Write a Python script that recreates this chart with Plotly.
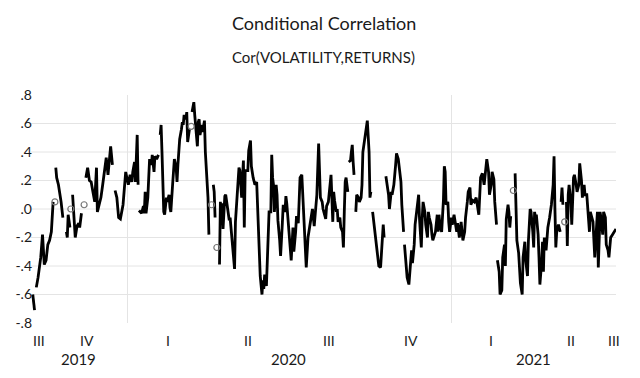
import pandas as pd
import plotly.graph_objects as go

title_text = "Conditional Correlation"
subtitle_text = "Cor(VOLATILITY,RETURNS)"

# observation day offsets from start_date (None = break in the series)
start_date = "2019-09-16"
day = [
    0, 2, None,
    4, 6, 9, 10, 11, 13, 15, 17, 19, 21, 23, None,
    25, None,
    26, 27, 29, 31, 32, 34, None,
    38, 39, 40, 42, None,
    43, None,
    45, 48, 50, 52, 53, 55, None,
    58, None,
    60, 62, 64, 66, 68, 70, 72, 73, 75, 77, 79, 81, 83, 85, 87, 88, 90, None,
    93, 95, 97, 99, 102, 104, 105, 108, 110, 112, 113, 115, 116, 118, 119, None,
    120, 123, 125, 126, 127, 128, 130, 131, 132, 134, 135, 137, 138, 140, 142, None,
    144, 145, 146, 147, 148, 149, 151, 152, 154, 155, 156, 158, 159, 160, 162, 163,
    164, 165, 166, 168, 169, 170, 171, 173, 174, 175, 177, None,
    179, None,
    180, 182, 183, 184, 186, 187, 188, 189, 191, 192, 193, 194, 195, 197, 198, 199, None,
    202, None,
    204, 205, 206, None,
    208, None,
    211, 212, 213, 214, 215, 217, 218, 220, 222, 223, 225, 226, 228, 229, 231, 233,
    234, 236, 237, 238, 239, 240, 243, 244, 246, 247, 249, 251, 253, 255, 256, 257,
    259, 260, 261, 262, 264, 266, 267, 269, 270, 271, 272, 273, 275, 276, 277, 279,
    280, 282, 283, 285, 286, 287, 289, 290, 292, 294, 295, 297, 298, 300, 302, 304,
    305, 307, 309, 311, 312, 314, 316, 318, 319, 321, 323, 324, 325, 327, 328, 331,
    332, 334, 336, 337, 339, 340, 341, 343, 344, 345, 347, 348, 350, 351, 352, 353,
    354, 356, None,
    357, 359, 360, 361, 362, 363, None,
    365, 366, 368, 369, 371, 372, 373, 375, 377, 378, 380, 381, 382, None,
    384, 386, 388, 390, 391, 393, 394, 396, 397, None,
    399, 400, 402, 403, 405, 406, 408, 410, 411, 413, 414, 416, 417, 419, None,
    420, 422, 423, 425, 426, 428, 429, 431, 432, 434, 436, 437, 439, 440, 441, 443,
    444, 446, 447, 448, 450, 451, 452, 454, 455, 457, 458, 459, 460, 462, 463, 464,
    465, 466, 467, 469, 470, 471, 473, 474, 476, 477, 479, 480, 482, 484, 485, 486,
    488, 489, 491, 492, 494, 495, 497, 499, 501, 503, 504, 506, 508, 510, 512, 513,
    515, 516, 518, 519, 521, 522, 524, None,
    525, 527, 528, 530, 531, 533, 534, 535, 537, 538, 539, 540, None,
    543, None,
    545, 547, 549, 550, 551, 553, 554, 556, 557, 559, 560, 562, 563, 565, 566, 567,
    568, 569, 571, 572, 573, 575, 576, 577, 578, 580, 581, 582, 584, 586, 588, 589,
    590, 591, 592, 593, 594, 596, None,
    597, 598, 599, None,
    601, None,
    603, 604, 605, 606, 608, 609, 611, 612, 614, 615, 617, 618, 620, 621, 623, 624,
    626, 627, 629, 630, 632, 633, 635, 636, 638, 639, 641, 642, 644, 645, 647, 648,
    650, 651, 653, 655, 657, 659,
]

cor = [
    -0.60, -0.71, None,
    -0.55, -0.48, -0.34, -0.27, -0.18, -0.39, -0.36, -0.25, -0.22, -0.16, 0.05, None,
    0.05, None,
    0.29, 0.22, 0.17, 0.10, 0.05, -0.06, None,
    -0.16, -0.20, -0.04, -0.13, None,
    0.00, None,
    0.10, -0.20, -0.12, -0.10, -0.13, -0.03, None,
    0.03, None,
    0.22, 0.29, 0.20, 0.19, 0.12, 0.05, 0.29, -0.02, 0.03, 0.08, 0.17, 0.26, 0.36, 0.24, 0.38, 0.44, 0.31, None,
    0.13, 0.08, -0.06, -0.07, 0.03, 0.15, 0.26, 0.17, 0.24, 0.19, 0.26, 0.33, 0.19, 0.52, 0.17, None,
    -0.01, -0.03, 0.02, -0.03, 0.12, -0.03, 0.08, 0.29, 0.35, 0.31, 0.38, 0.26, 0.37, 0.35, 0.38, None,
    0.52, 0.59, 0.40, 0.17, -0.02, -0.04, 0.08, 0.05, 0.10, 0.01, -0.02, 0.17, 0.24, 0.35, 0.29, 0.19,
    0.31, 0.38, 0.49, 0.56, 0.61, 0.59, 0.66, 0.63, 0.68, 0.47, 0.56, None,
    0.58, None,
    0.68, 0.75, 0.66, 0.59, 0.44, 0.61, 0.63, 0.52, 0.59, 0.54, 0.61, 0.62, 0.40, 0.17, 0.08, -0.18, None,
    0.03, None,
    0.17, 0.12, -0.06, None,
    -0.27, None,
    -0.39, 0.05, -0.09, 0.04, -0.14, 0.09, 0.10, -0.01, -0.08, -0.06, -0.19, -0.24, -0.42, -0.09, 0.15, 0.29,
    0.27, 0.08, 0.22, 0.34, -0.13, 0.27, 0.27, 0.41, 0.48, 0.30, 0.22, 0.17, 0.19, -0.19, -0.24, -0.47,
    -0.60, -0.50, -0.56, -0.46, -0.54, -0.22, -0.02, -0.02, 0.38, 0.22, 0.17, -0.02, 0.17, 0.10, -0.08, -0.22,
    -0.33, -0.10, 0.03, -0.02, 0.09, 0.04, -0.11, -0.22, -0.36, -0.13, -0.30, -0.16, -0.05, -0.10, 0.22, 0.24,
    0.12, -0.20, -0.41, -0.20, -0.16, -0.06, 0.00, -0.12, -0.06, 0.10, 0.46, 0.22, 0.08, 0.05, 0.00, -0.07,
    0.02, 0.05, 0.17, 0.24, -0.09, 0.12, 0.06, -0.02, 0.00, -0.09, -0.06, -0.13, -0.16, -0.27, -0.02, 0.19,
    0.22, 0.12, None,
    0.33, 0.34, 0.40, 0.45, 0.33, 0.24, None,
    -0.02, 0.10, 0.08, 0.05, 0.08, 0.17, 0.40, 0.49, 0.56, 0.62, 0.40, 0.08, 0.12, None,
    -0.02, -0.13, -0.25, -0.36, -0.40, -0.41, -0.29, -0.11, -0.20, None,
    0.23, 0.19, 0.10, 0.00, 0.12, 0.10, 0.17, 0.31, 0.39, 0.35, 0.29, 0.19, 0.03, -0.16, None,
    -0.25, -0.39, -0.48, -0.53, -0.44, -0.29, -0.38, -0.25, -0.11, 0.01, 0.10, -0.07, -0.27, -0.07, 0.05, -0.02,
    -0.11, -0.20, -0.02, -0.06, -0.11, -0.18, -0.22, -0.18, -0.16, -0.04, -0.16, -0.04, -0.11, -0.16, -0.06, 0.06,
    0.30, 0.26, 0.03, 0.05, -0.09, -0.16, -0.06, -0.11, -0.04, -0.09, -0.16, -0.10, -0.20, -0.09, -0.16, -0.22,
    -0.16, -0.06, 0.05, 0.12, 0.15, 0.03, 0.06, 0.05, 0.08, 0.01, -0.04, 0.22, 0.25, 0.17, 0.33, 0.35,
    0.26, 0.10, 0.17, 0.26, 0.21, 0.05, -0.11, None,
    -0.36, -0.44, -0.60, -0.57, -0.34, -0.25, -0.40, -0.07, 0.03, -0.02, -0.13, -0.05, None,
    0.13, None,
    0.25, -0.22, -0.31, -0.45, -0.52, -0.60, -0.34, -0.23, -0.36, -0.47, -0.23, 0.00, -0.02, -0.16, -0.27, -0.02,
    -0.06, -0.04, -0.18, -0.34, -0.53, -0.37, -0.23, -0.44, -0.20, -0.29, -0.20, -0.13, -0.06, 0.03, 0.17, 0.37,
    0.00, -0.27, -0.16, -0.13, -0.11, -0.16, None,
    0.05, 0.15, 0.03, None,
    -0.09, None,
    0.05, -0.26, 0.10, 0.17, 0.05, -0.11, 0.22, 0.24, 0.17, 0.12, 0.17, 0.32, 0.20, 0.08, 0.17, 0.10,
    0.10, 0.03, -0.16, -0.02, -0.06, -0.09, -0.34, -0.20, -0.02, -0.41, -0.02, -0.06, -0.18, -0.02, -0.06, -0.25,
    -0.29, -0.34, -0.20, -0.18, -0.16, -0.14,
]

y_ticks = [-0.8, -0.6, -0.4, -0.2, 0.0, 0.2, 0.4, 0.6, 0.8]
y_tick_text = ["-.8", "-.6", "-.4", "-.2", ".0", ".2", ".4", ".6", ".8"]
quarter_names = ["I", "II", "III", "IV"]
x_start, x_end = "2019-09-14", "2021-07-06"

FONT = "Lato, 'Open Sans', sans-serif"
TXT = "#1a1a1a"
t0 = pd.Timestamp(start_date)
dates = [t0 + pd.Timedelta(days=d) if d is not None else None for d in day]

# isolated observations (single point between two breaks) are shown as circles
iso_x, iso_y = [], []
for i, v in enumerate(cor):
    if v is None:
        continue
    prev_gap = i == 0 or cor[i - 1] is None
    next_gap = i == len(cor) - 1 or cor[i + 1] is None
    if prev_gap and next_gap:
        iso_x.append(dates[i])
        iso_y.append(v)

fig = go.Figure()
fig.add_trace(go.Scatter(
    x=dates, y=cor, mode="lines", connectgaps=False,
    line=dict(color="#000000", width=2.8), hoverinfo="skip", showlegend=False,
))
fig.add_trace(go.Scatter(
    x=iso_x, y=iso_y, mode="markers",
    marker=dict(symbol="circle-open", size=6, color="#777777", line=dict(width=1.2)),
    showlegend=False,
))

xs, xe = pd.Timestamp(x_start), pd.Timestamp(x_end)
year_starts = [pd.Timestamp(f"{y}-01-01") for y in range(xs.year + 1, xe.year + 1)]

PLOT_H = 228  # plot area height in px
annotations = []
for q in pd.period_range(xs, xe, freq="Q"):
    a = max(q.start_time, xs)
    b = min(q.end_time, xe)
    mid = a + (b - a) / 2
    annotations.append(dict(x=mid, y=-17 / PLOT_H, xref="x", yref="paper", text=quarter_names[q.quarter - 1],
                            showarrow=False, yanchor="middle", xanchor="center",
                            font=dict(family=FONT, size=14, color=TXT)))
for yr in range(xs.year, xe.year + 1):
    a = max(pd.Timestamp(f"{yr}-01-01"), xs)
    b = min(pd.Timestamp(f"{yr}-12-31"), xe)
    mid = a + (b - a) / 2
    annotations.append(dict(x=mid, y=-36 / PLOT_H, xref="x", yref="paper", text=str(yr),
                            showarrow=False, yanchor="middle", xanchor="center",
                            font=dict(family=FONT, size=15, color=TXT)))
annotations += [
    dict(x=0.5, y=1 + (95 - 23) / PLOT_H, xref="paper", yref="paper", text=title_text,
         showarrow=False, yanchor="middle", font=dict(family=FONT, size=18, color=TXT)),
    dict(x=0.5, y=1 + (95 - 57) / PLOT_H, xref="paper", yref="paper", text=subtitle_text,
         showarrow=False, yanchor="middle", font=dict(family=FONT, size=15, color=TXT)),
]

shapes = [dict(type="line", xref="paper", yref="y", x0=0, x1=1, y0=v, y1=v,
               line=dict(color="#e4e4e4", width=1), layer="below")
          for v in y_ticks if abs(v) < 0.79]

# page body has an 8px default margin: shift margins to compensate
fig.update_layout(
    width=640, height=378,
    margin=dict(l=23, r=32, t=87, b=63, autoexpand=False),
    paper_bgcolor="white", plot_bgcolor="white",
    font=dict(family=FONT, color=TXT),
    annotations=annotations,
    shapes=shapes,
    xaxis=dict(type="date", range=[x_start, x_end], tickvals=year_starts, showticklabels=False,
               showgrid=True, gridcolor="#e4e4e4", gridwidth=1, zeroline=False, showline=False, ticks="",
               automargin=False),
    yaxis=dict(range=[-0.8, 0.8], tickvals=y_ticks, ticktext=y_tick_text, showgrid=False,
               zeroline=False, showline=False, ticks="", ticklen=0, ticklabelstandoff=-2, automargin=False,
               tickfont=dict(family=FONT, size=14, color=TXT)),
)

fig.write_html("out.html")
